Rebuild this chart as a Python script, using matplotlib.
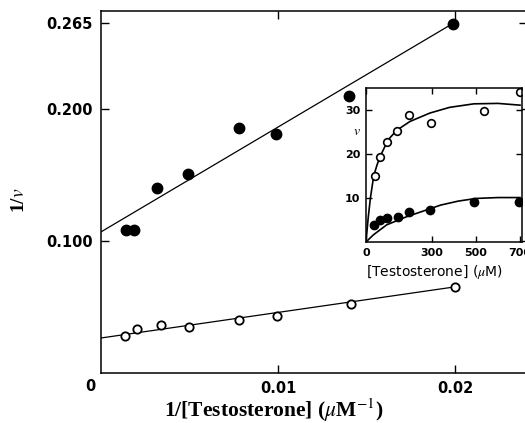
import numpy as np
import matplotlib
matplotlib.use("Agg")
import matplotlib.pyplot as plt

plt.rcParams["mathtext.fontset"] = "stix"

# main plot, double reciprocal
inv_s_filled = [0.00141, 0.00186, 0.00316, 0.00492, 0.0078, 0.00989, 0.0140, 0.0199]
inv_v_filled = [0.1083, 0.1083, 0.140, 0.1508, 0.1856, 0.181, 0.2098, 0.2644]
inv_s_open = [0.00136, 0.00203, 0.00339, 0.00497, 0.0078, 0.00994, 0.0141, 0.0200]
inv_v_open = [0.0280, 0.0333, 0.0364, 0.0348, 0.0402, 0.0432, 0.0523, 0.0652]

# fitted straight lines
fit_x = [0.0, 0.02]
fit_filled = [0.1068, 0.2655]
fit_open = [0.0265, 0.0652]

# inset, v against [testosterone]
conc_open = [41, 64, 95, 141, 195, 295, 536, 700]
v_open = [15.0, 19.3, 22.7, 25.2, 28.9, 27.1, 29.8, 34.0]
conc_filled = [36, 64, 95, 145, 195, 291, 491, 695]
v_filled = [3.9, 5.0, 5.5, 5.7, 6.8, 7.3, 9.1, 9.1]

curve_open_x = [0, 10, 20, 35, 50, 65, 100, 140, 200, 290, 380, 490, 600, 700]
curve_open_y = [0, 5.5, 10, 15, 17.5, 19.5, 23.2, 25.4, 27.4, 29.3, 30.6, 31.4, 31.5, 31.1]
curve_filled_x = [0, 33, 94, 185, 276, 340, 420, 500, 600, 700]
curve_filled_y = [0, 1.6, 3.9, 5.75, 7.3, 8.4, 9.3, 9.9, 10.1, 10.1]

tick_font = dict(family="DejaVu Sans", fontweight="bold", fontsize=10.5)
inset_font = dict(family="DejaVu Sans", fontweight="bold", fontsize=8)

fig = plt.figure(figsize=(5.25, 4.23), dpi=100)
ax = fig.add_axes([101/525, 50/423, 426/525, 362/423])

ax.plot(fit_x, fit_filled, color="black", lw=0.9)
ax.plot(fit_x, fit_open, color="black", lw=0.9)
ax.plot(inv_s_filled, inv_v_filled, "o", color="black", ms=7.5, ls="none")
ax.plot(inv_s_open, inv_v_open, "o", mfc="white", mec="black", mew=1.3, ms=6, ls="none")

ax.set_xlim(0, 0.02407)
ax.set_ylim(0, 0.274)
ax.set_xticks([0.01, 0.02])
ax.set_xticklabels(["0.01", "0.02"], **tick_font)
ax.set_yticks([0.1, 0.2, 0.265])
ax.set_yticklabels(["0.100", "0.200", "0.265"], **tick_font)
ax.tick_params(direction="in", length=6, width=1, top=True, right=True, pad=6)
for s in ax.spines.values():
    s.set_linewidth(1.1)
ax.text(-0.0006, -0.0045, "0", ha="center", va="top", **tick_font)

ax.set_xlabel("1/[Testosterone] ($\\mu$M$^{-1}$)", family="Liberation Serif",
              fontweight="bold", fontsize=15.5, ha="center", va="center")
ax.xaxis.set_label_coords(0.406, -0.104)
ax.set_ylabel("1/$v$", family="Liberation Serif", fontweight="bold", fontsize=14,
              ha="center", va="center")
ax.yaxis.set_label_coords(-0.192, 0.478)

# inset
ins = fig.add_axes([366/525, 181/423, 156/525, 154/423])
ins.plot(curve_open_x, curve_open_y, color="black", lw=1.2)
ins.plot(curve_filled_x, curve_filled_y, color="black", lw=1.2)
ins.plot(conc_open, v_open, "o", mfc="white", mec="black", mew=1.2, ms=5.5, ls="none")
ins.plot(conc_filled, v_filled, "o", color="black", ms=6, ls="none")
ins.set_xlim(0, 709)
ins.set_ylim(0, 35)
ins.set_xticks([0, 300, 500, 700])
ins.set_xticklabels(["0", "300", "500", "700"], **inset_font)
ins.set_yticks([10, 20, 30])
ins.set_yticklabels(["10", "20", "30"], **inset_font)
ins.tick_params(direction="in", length=4, width=1, top=True, right=True, pad=4)
for s in ins.spines.values():
    s.set_linewidth(1.1)
ins.set_xlabel("[Testosterone] ($\\mu$M)", family="DejaVu Sans", fontsize=10,
               ha="center", va="center")
ins.xaxis.set_label_coords(0.44, -0.195)
ins.set_ylabel("$v$", fontsize=10, rotation=0, ha="center", va="center")
ins.yaxis.set_label_coords(-0.06, 0.72)

fig.savefig("out.png", dpi=100)
